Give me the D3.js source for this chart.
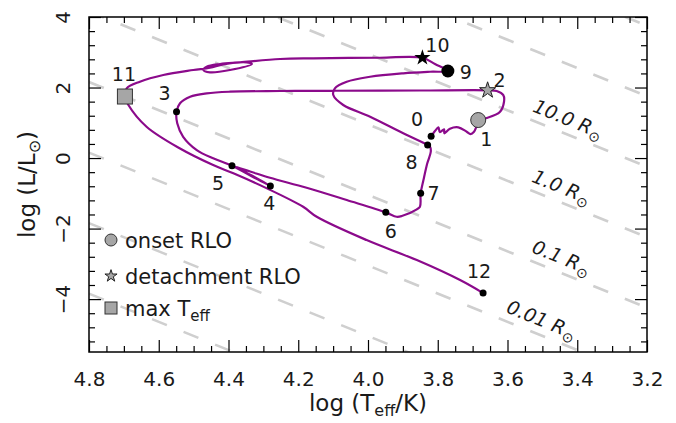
<!DOCTYPE html>
<html><head><meta charset="utf-8">
<script src="https://cdn.jsdelivr.net/npm/d3@7"></script>
<style>
body{margin:0;background:#fff;}
svg{display:block;}
text{font-family:"DejaVu Sans",sans-serif;fill:#1a1a1a;}
</style>
</head><body>
<svg id="chart" width="676" height="423"></svg>
<script>
// ---------------- data ----------------
const xTickValues = [4.8, 4.6, 4.4, 4.2, 4.0, 3.8, 3.6, 3.4, 3.2];
const yTickValues = [4, 2, 0, -2, -4];
const radiiRsun = [0.0001, 0.001, 0.01, 0.1, 1, 10, 100, 1000];
const radiusLabelValues = [0.01, 0.1, 1, 10];
const radiusLabelTexts = ["0.01", "0.1", "1.0", "10.0"];

const trackLogT = [3.819,3.808,3.798,3.794,3.782,3.781,3.765,3.741,3.717,3.706,3.696,3.690,3.684,
  3.662,3.622,3.610,3.612,3.631,3.657,
  3.851,4.100,4.252,4.396,4.4625,4.510,4.539,4.549,
  4.547,4.530,4.491,4.444,4.390,4.335,4.280,4.333,4.384,4.338,4.281,4.176,4.061,3.949,
  3.918,3.903,3.860,3.851,3.849,3.841,3.830,3.820,3.822,3.829,
  3.899,3.994,4.071,4.0995,4.095,4.061,3.994,3.899,3.822,3.771,
  3.808,3.844,3.966,4.157,4.252,4.367,4.424,4.4625,4.472,4.453,4.396,4.333,4.348,4.415,4.453,4.501,4.587,4.654,4.692,4.697,
  4.687,4.635,4.539,4.444,4.386,4.290,4.186,4.147,4.004,3.860,3.736,3.670];
const trackLogL = [0.616,0.766,0.871,0.738,0.814,0.701,0.831,0.871,0.746,0.681,0.746,0.871,1.078,
  1.130,1.305,1.597,1.787,1.901,1.921,
  1.915,1.909,1.901,1.881,1.835,1.739,1.552,1.313,
  0.984,0.604,0.227,-0.009,-0.218,-0.511,-0.794,-0.496,-0.241,-0.383,-0.559,-0.843,-1.191,-1.540,
  -1.665,-1.645,-1.455,-1.381,-1.001,-0.624,-0.150,0.179,0.321,0.369,
  0.701,1.172,1.504,1.787,1.977,2.165,2.306,2.403,2.448,2.468,
  2.667,2.845,2.845,2.828,2.809,2.715,2.667,2.590,2.496,2.431,2.496,2.667,2.715,2.658,2.562,2.496,2.355,2.165,1.977,1.745,
  1.504,0.888,0.270,-0.199,-0.434,-0.860,-1.382,-1.665,-2.326,-2.894,-3.461,-3.830];

const pointNames = ["0","1","2","3","4","5","6","7","8","9","10","11","12"];
const pointLogT  = [3.819,3.684,3.657,4.549,4.280,4.390,3.949,3.849,3.829,3.771,3.844,4.697,3.670];
const pointLogL  = [0.616,1.078,1.921,1.313,-0.794,-0.218,-1.540,-1.001,0.369,2.468,2.845,1.745,-3.830];
const pointKinds = ["dot","onset","detach","dot","dot","dot","dot","dot","dot","big","detachBlack","max","dot"];

const legendKinds = ["onset", "detach", "max"];
const legendTexts = ["onset RLO", "detachment RLO", "max T"];

const logTsun = Math.log10(5772);

// ---------------- layout / style ----------------
const W = 676, H = 423;
const plot = {left: 89, right: 647, top: 17, bottom: 352};
const purple = "#8b0a8b";
const labelOffsets = {"0":[-14,-17],"1":[8,19],"2":[12,-10],"3":[-12,-19],"4":[-1,17],"5":[-14,17],
  "6":[5,19],"7":[13,0],"8":[-16,17],"9":[18,1],"10":[15,-13],"11":[-1,-22],"12":[-4,-22]};
const radiusLabelPos = {0.01: 3.502, 0.1: 3.4446, 1: 3.4446, 10: 3.4257};

const svg = d3.select("#chart");
svg.append("rect").attr("width", W).attr("height", H).attr("fill", "#fff");

const x = d3.scaleLinear().domain([4.8, 3.2]).range([plot.left, plot.right]);
const y = d3.scaleLinear().domain([-5.5, 4]).range([plot.bottom, plot.top]);

svg.append("defs").append("clipPath").attr("id", "clip")
  .append("rect").attr("x", plot.left).attr("y", plot.top)
  .attr("width", plot.right - plot.left).attr("height", plot.bottom - plot.top);

// ---------------- constant radius lines ----------------
const rLine = (R, T) => 2 * Math.log10(R) + 4 * (T - logTsun);
const gR = svg.append("g").attr("clip-path", "url(#clip)");
radiiRsun.forEach(R => {
  gR.append("line")
    .attr("x1", x(4.8)).attr("y1", y(rLine(R, 4.8)))
    .attr("x2", x(3.2)).attr("y2", y(rLine(R, 3.2)))
    .attr("stroke", "#cfcfcf").attr("stroke-width", 2.6)
    .attr("stroke-dasharray", "16,18");
});
const slope = (y(rLine(1, 3.2)) - y(rLine(1, 4.8))) / (x(3.2) - x(4.8));
const angle = Math.atan(slope) * 180 / Math.PI;
radiusLabelValues.forEach((R, i) => {
  const T = radiusLabelPos[R];
  const cx = x(T), cy = y(rLine(R, T)) - 16;
  const t = svg.append("text")
    .attr("transform", `translate(${cx},${cy}) rotate(${angle})`)
    .attr("text-anchor", "middle").attr("dy", "0.35em")
    .attr("font-size", 19).attr("font-style", "italic");
  t.append("tspan").text(radiusLabelTexts[i] + " R");
  t.append("tspan").attr("font-size", 14).attr("font-style", "normal").attr("dy", 5).text("\u2299");
});

// ---------------- track ----------------
const trackData = trackLogT.map((t, i) => [t, trackLogL[i]]);
svg.append("path")
  .attr("d", d3.line().x(d => x(d[0])).y(d => y(d[1])).curve(d3.curveCatmullRom.alpha(0.5))(trackData))
  .attr("fill", "none").attr("stroke", purple).attr("stroke-width", 2.2)
  .attr("stroke-linejoin", "round");

// ---------------- markers ----------------
const star = (r) => d3.symbol().type(d3.symbolStar).size(r * r / 0.8908130915292852)();
function drawMarker(g, kind, cx, cy, scale) {
  const s = scale || 1;
  if (kind === "dot") {
    g.append("circle").attr("cx", cx).attr("cy", cy).attr("r", 3.5).attr("fill", "#000");
  } else if (kind === "big") {
    g.append("circle").attr("cx", cx).attr("cy", cy).attr("r", 6.5).attr("fill", "#000");
  } else if (kind === "onset") {
    g.append("circle").attr("cx", cx).attr("cy", cy).attr("r", 7.5 * s)
      .attr("fill", "#a6a6a6").attr("stroke", "#333").attr("stroke-width", 1);
  } else if (kind === "detach") {
    g.append("path").attr("d", star(8.5 * s)).attr("transform", `translate(${cx},${cy})`)
      .attr("fill", "#a6a6a6").attr("stroke", "#222").attr("stroke-width", 1);
  } else if (kind === "detachBlack") {
    g.append("path").attr("d", star(8.5)).attr("transform", `translate(${cx},${cy})`)
      .attr("fill", "#000");
  } else if (kind === "max") {
    const a = 15 * s;
    g.append("rect").attr("x", cx - a / 2).attr("y", cy - a / 2).attr("width", a).attr("height", a)
      .attr("fill", "#a6a6a6").attr("stroke", "#333").attr("stroke-width", 1);
  }
}
const gM = svg.append("g");
pointNames.forEach((n, i) => {
  const cx = x(pointLogT[i]), cy = y(pointLogL[i]);
  drawMarker(gM, pointKinds[i], cx, cy);
  const o = labelOffsets[n];
  svg.append("text").attr("x", cx + o[0]).attr("y", cy + o[1]).attr("dy", "0.36em")
    .attr("text-anchor", "middle").attr("font-size", 19).text(n);
});

// ---------------- legend ----------------
const legendY = [240, 276, 308];
legendKinds.forEach((k, i) => {
  drawMarker(svg, k, 111, legendY[i], k === "max" ? 0.8 : (k === "detach" ? 0.75 : 0.8));
  const t = svg.append("text").attr("x", 125).attr("y", legendY[i]).attr("dy", "0.36em")
    .attr("font-size", 21);
  t.append("tspan").text(legendTexts[i]);
  if (k === "max") t.append("tspan").attr("font-size", 15).attr("dy", 5).text("eff");
});

// ---------------- axes ----------------
const xMinor = d3.range(3.2, 4.8001, 0.05).filter(v => Math.abs(v * 5 - Math.round(v * 5)) > 1e-6);
const yMinor = d3.range(-5.2, 4.0001, 0.4).filter(v => Math.abs(v / 2 - Math.round(v / 2)) > 1e-6);
const MAJ = 12, MIN = 6;
function axis(gen, vals, size, tx, ty, labels) {
  const g = svg.append("g").attr("transform", `translate(${tx},${ty})`)
    .call(gen.tickValues(vals).tickSize(-size).tickSizeOuter(0));
  g.select(".domain").remove();
  g.selectAll(".tick line").attr("stroke", "#000").attr("stroke-width", 1.2);
  if (!labels) g.selectAll(".tick text").remove();
  return g;
}
const gxb = axis(d3.axisBottom(x).tickFormat(d3.format(".1f")).tickPadding(20), xTickValues, MAJ, 0, plot.bottom, true);
gxb.selectAll(".tick text").attr("font-size", 20).attr("font-family", "DejaVu Sans").attr("fill", "#1a1a1a");
axis(d3.axisBottom(x), xMinor, MIN, 0, plot.bottom, false);
axis(d3.axisTop(x), xTickValues, MAJ, 0, plot.top, false);
axis(d3.axisTop(x), xMinor, MIN, 0, plot.top, false);
const gyl = axis(d3.axisLeft(y).tickFormat(d3.format("d")), yTickValues, MAJ, plot.left, 0, true);
gyl.selectAll(".tick text")
  .attr("x", null).attr("dy", null)
  .attr("text-anchor", "middle")
  .attr("transform", "translate(-19,0) rotate(-90)")
  .attr("font-size", 20).attr("font-family", "DejaVu Sans").attr("fill", "#1a1a1a");
axis(d3.axisLeft(y), yMinor, MIN, plot.left, 0, false);
axis(d3.axisRight(y), yTickValues, MAJ, plot.right, 0, false);
axis(d3.axisRight(y), yMinor, MIN, plot.right, 0, false);

svg.append("rect").attr("x", plot.left).attr("y", plot.top)
  .attr("width", plot.right - plot.left).attr("height", plot.bottom - plot.top)
  .attr("fill", "none").attr("stroke", "#000").attr("stroke-width", 1.5);

// axis titles
const xt = svg.append("text").attr("x", (plot.left + plot.right) / 2).attr("y", 411)
  .attr("text-anchor", "middle").attr("font-size", 23);
xt.append("tspan").text("log (T");
xt.append("tspan").attr("font-size", 16).attr("dy", 5).text("eff");
xt.append("tspan").attr("dy", -5).text("/K)");

const yt = svg.append("text")
  .attr("transform", `translate(35,${(plot.top + plot.bottom) / 2}) rotate(-90)`)
  .attr("text-anchor", "middle").attr("font-size", 23);
yt.append("tspan").text("log (L/L");
yt.append("tspan").attr("font-size", 16).attr("dy", 5).text("\u2299");
yt.append("tspan").attr("dy", -5).text(")");
</script>
</body></html>
